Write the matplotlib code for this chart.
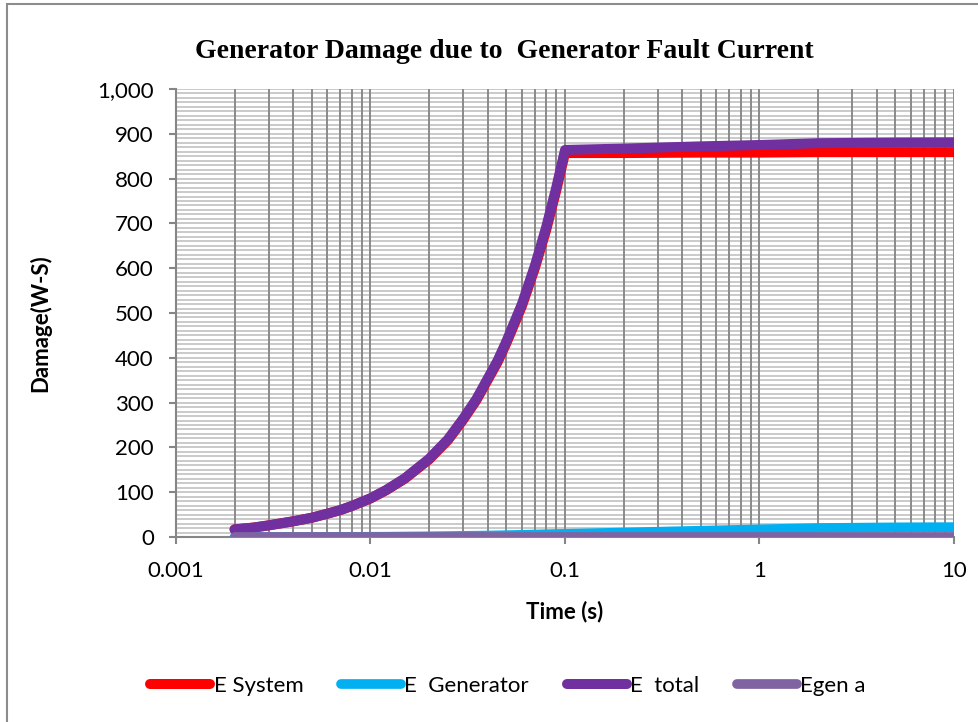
import matplotlib.pyplot as plt
import matplotlib.ticker as mticker
from matplotlib.patches import Rectangle

# time points (s) and damage values (W-S)
time_s = [0.002, 0.0025, 0.003, 0.004, 0.005, 0.006, 0.007, 0.008, 0.009, 0.01,
          0.012, 0.015, 0.02, 0.025, 0.03, 0.035, 0.04, 0.045, 0.05, 0.06, 0.07,
          0.08, 0.09, 0.1, 0.2, 0.5, 1, 2, 5, 10]
e_system = [17, 21, 26, 35, 43, 52, 60, 69, 78, 86,
            104, 130, 173, 216, 262, 305, 350, 390, 433, 515, 600,
            685, 772, 857, 857, 858, 858, 859, 859, 859]
e_generator = [0, 0, 0, 0, 0.1, 0.1, 0.2, 0.2, 0.3, 0.5,
               0.6, 1.0, 1.5, 2.0, 2.5, 2.8, 3.2, 3.6, 4, 4.8, 5.5,
               6.2, 6.6, 7, 10, 14, 17, 20, 21.5, 22]
e_total = [s + g for s, g in zip(e_system, e_generator)]
egen_a = [0] * len(time_s)

series_names = ['E System', 'E  Generator', 'E  total', 'Egen a']
series_colors = ['#FF0000', '#00B0F0', '#7030A0', '#8064A2']

plt.rcParams['font.family'] = ['Lato', 'DejaVu Sans']

fig = plt.figure(figsize=(9.79, 7.22), dpi=100)
ax = fig.add_axes([176 / 979, 1 - 537 / 722, (954 - 176) / 979, (537 - 89) / 722])

# outer chart border
fig.patches.append(Rectangle((7 / 979, -0.02), 1.1, 1.02 - 4 / 722, transform=fig.transFigure,
                             fill=False, edgecolor='#8c8c8c', linewidth=1.5))

all_series = [e_system, e_generator, e_total, egen_a]
widths = [7.2, 7.0, 7.2, 7.0]
for vals, name, col, lw in zip(all_series, series_names, series_colors, widths):
    ax.plot(time_s, vals, color=col, lw=lw, label=name, solid_capstyle='round',
            solid_joinstyle='round')

ax.set_xscale('log')
ax.set_xlim(0.001, 10)
ax.set_ylim(0, 1000)

ax.xaxis.set_major_locator(mticker.LogLocator(base=10))
ax.xaxis.set_minor_locator(mticker.LogLocator(base=10, subs=range(2, 10)))
ax.xaxis.set_major_formatter(mticker.FuncFormatter(lambda v, p: f'{v:g}'))
ax.xaxis.set_minor_formatter(mticker.NullFormatter())
ax.yaxis.set_major_locator(mticker.MultipleLocator(100))
ax.yaxis.set_minor_locator(mticker.MultipleLocator(10))
ax.yaxis.set_major_formatter(mticker.FuncFormatter(lambda v, p: f'{v:,.0f}'))

ax.grid(which='both', axis='x', color='#8a8a8a', lw=1.4)
ax.grid(which='both', axis='y', color='#c6c6c6', lw=1.3)
ax.set_axisbelow(True)
# vertical grid drawn over the horizontal one
ax.yaxis.set_zorder(0.4)

for side in ['top', 'right']:
    ax.spines[side].set_visible(False)
for side in ['left', 'bottom']:
    ax.spines[side].set_color('#868686')
    ax.spines[side].set_linewidth(1.5)
    ax.spines[side].set_zorder(0.6)
ax.tick_params(which='major', direction='out', length=5, width=1.5, color='#868686',
               labelsize=16)
ax.tick_params(axis='x', pad=12)
ax.tick_params(axis='y', pad=11)
ax.tick_params(which='minor', length=0)

ax.set_xlabel('Time (s)', fontsize=16, weight='bold', va='center')
ax.xaxis.set_label_coords(0.5, (537 - 612) / 448)
ax.set_ylabel('Damage(W-S)', fontsize=16, weight='bold', va='center')
ax.yaxis.set_label_coords((40 - 176) / 778, (537 - 323) / 448)

fig.text(504 / 979, 1 - 51 / 722, 'Generator Damage due to  Generator Fault Current',
         ha='center', va='center', fontsize=20, weight='bold', family='Liberation Serif')

leg = fig.legend(loc='center', bbox_to_anchor=(508 / 979, 1 - 686 / 722), ncol=4,
                 frameon=False, fontsize=16, handlelength=2.7, handletextpad=0.15,
                 columnspacing=1.7)
for ln in leg.get_lines():
    ln.set_solid_capstyle('round')

fig.savefig('out.png', dpi=100)
